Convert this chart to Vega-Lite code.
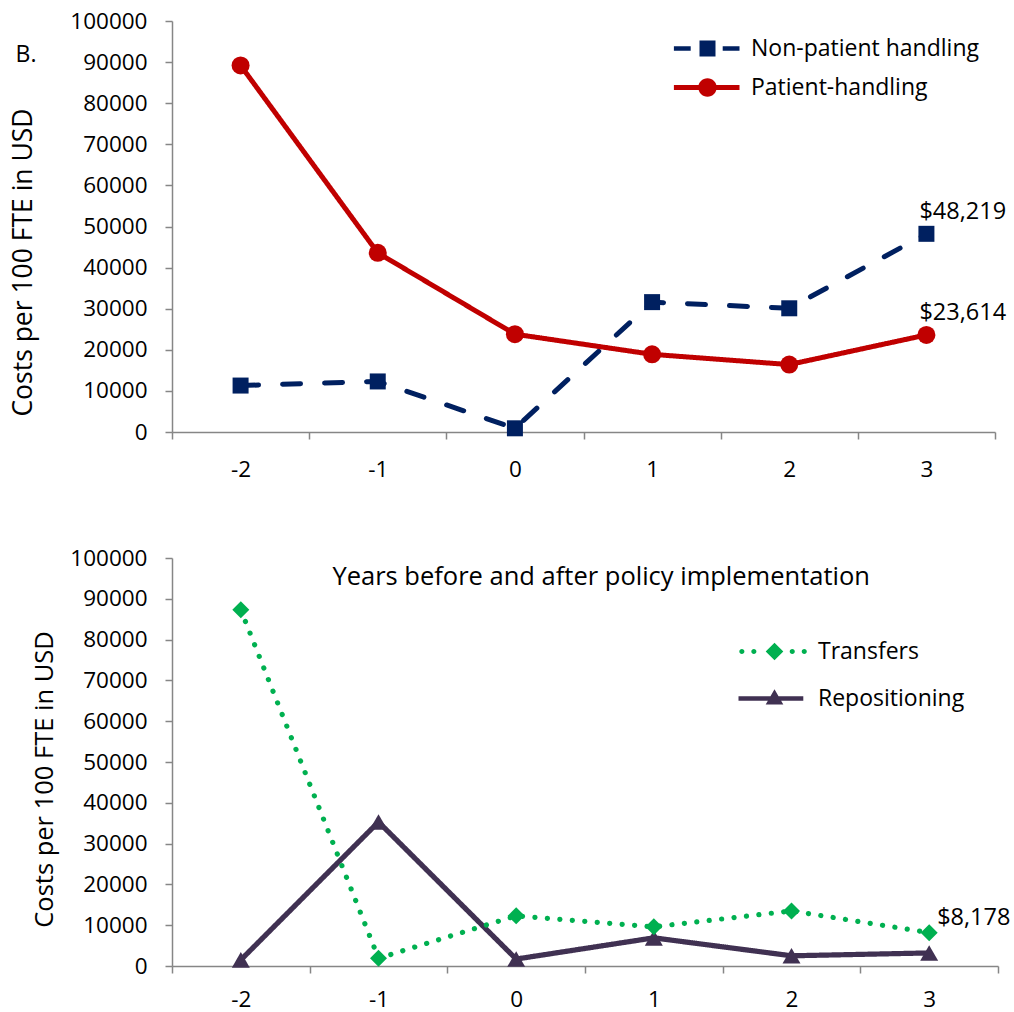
{
  "$schema": "https://vega.github.io/schema/vega-lite/v6.json",
  "background": "white",
  "padding": {"left": 10, "top": 10, "right": 5, "bottom": 2},
  "spacing": 66,
  "config": {
    "font": "Open Sans",
    "view": {"stroke": null},
    "axis": {
      "labelFont": "Open Sans", "labelFontSize": 22.5, "labelColor": "black",
      "titleFont": "Open Sans", "titleFontSize": 25, "titleFontWeight": "normal", "titleColor": "black",
      "domainColor": "#868686", "tickColor": "#868686", "domainWidth": 1.5, "tickWidth": 1.5, "tickSize": 7, "grid": false
    },
    "legend": {
      "title": null, "orient": "none", "padding": 0, "labelFont": "Open Sans", "labelFontSize": 23, "labelColor": "black",
      "labelLimit": 400, "symbolSize": 256, "labelOffset": 32, "symbolStrokeWidth": 0, "symbolOpacity": 1
    }
  },
  "datasets": {
    "top": [
      {"series": "Non-patient handling", "year": -2, "value": 11300},
      {"series": "Non-patient handling", "year": -1, "value": 12300},
      {"series": "Non-patient handling", "year": 0, "value": 900},
      {"series": "Non-patient handling", "year": 1, "value": 31600},
      {"series": "Non-patient handling", "year": 2, "value": 30100},
      {"series": "Non-patient handling", "year": 3, "value": 48219},
      {"series": "Patient-handling", "year": -2, "value": 89200},
      {"series": "Patient-handling", "year": -1, "value": 43600},
      {"series": "Patient-handling", "year": 0, "value": 23800},
      {"series": "Patient-handling", "year": 1, "value": 18900},
      {"series": "Patient-handling", "year": 2, "value": 16400},
      {"series": "Patient-handling", "year": 3, "value": 23614}
    ],
    "bottom": [
      {"series": "Repositioning", "year": -2, "value": 1500},
      {"series": "Repositioning", "year": -1, "value": 35300},
      {"series": "Repositioning", "year": 0, "value": 1700},
      {"series": "Repositioning", "year": 1, "value": 6900},
      {"series": "Repositioning", "year": 2, "value": 2500},
      {"series": "Repositioning", "year": 3, "value": 3200},
      {"series": "Transfers", "year": -2, "value": 87300},
      {"series": "Transfers", "year": -1, "value": 1900},
      {"series": "Transfers", "year": 0, "value": 12300},
      {"series": "Transfers", "year": 1, "value": 9600},
      {"series": "Transfers", "year": 2, "value": 13500},
      {"series": "Transfers", "year": 3, "value": 8178}
    ]
  },
  "resolve": {"scale": {"color": "independent", "strokeDash": "independent"}, "legend": {"color": "independent"}},
  "vconcat": [
    {
      "width": 823, "height": 411,
      "data": {"name": "top"},
      "encoding": {
        "x": {"field": "year", "type": "ordinal", "scale": {"type": "band", "domain": [-2, -1, 0, 1, 2, 3], "paddingInner": 0, "paddingOuter": 0},
              "axis": {"title": null, "labelAngle": 0, "tickBand": "extent", "labelPadding": 19}},
        "y": {"field": "value", "type": "quantitative", "scale": {"domain": [0, 100000]},
              "axis": {"title": "Costs per 100 FTE in USD", "values": [0, 10000, 20000, 30000, 40000, 50000, 60000, 70000, 80000, 90000, 100000], "format": "d", "titlePadding": 32, "titleFontSize": 26.5, "titleY": 241, "labelPadding": 18}}
      },
      "layer": [
        {
          "mark": {"type": "line", "strokeWidth": 5, "strokeCap": "round"},
          "encoding": {
            "color": {"field": "series", "type": "nominal", "scale": {"domain": ["Non-patient handling", "Patient-handling"], "range": ["#002060", "#C00000"]},
              "legend": {"legendX": 524, "legendY": 16, "rowPadding": 15,
                "encode": {"symbols": {"update": {
                  "shape": {"signal": "datum.value === 'Patient-handling' ? 'M-4.2,-0.3H4V0.3H-4.2Z M-1.15,0 A1.15,1.15 0 1,1 1.15,0 A1.15,1.15 0 1,1 -1.15,0Z' : 'M-4.2,-0.28H-2.1V0.28H-4.2Z M-1,-1H1V1H-1Z M1.9,-0.28H4V0.28H1.9Z'"},
                  "fill": {"signal": "datum.value === 'Patient-handling' ? '#C00000' : '#002060'"},
                  "fillOpacity": {"value": 1}, "strokeWidth": {"value": 0}, "opacity": {"value": 1}
                }}}}},
            "strokeDash": {"field": "series", "type": "nominal", "scale": {"domain": ["Non-patient handling", "Patient-handling"], "range": [[18, 24], [1, 0]]}, "legend": null}
          }
        },
        {
          "transform": [{"filter": "datum.series === 'Non-patient handling'"}],
          "mark": {"type": "point", "filled": true, "opacity": 1, "shape": "square", "size": 256, "color": "#002060"}
        },
        {
          "transform": [{"filter": "datum.series === 'Patient-handling'"}],
          "mark": {"type": "point", "filled": true, "opacity": 1, "shape": "circle", "size": 324, "color": "#C00000"}
        },
        {
          "transform": [{"filter": "datum.year === 3"}],
          "mark": {"type": "text", "align": "left", "baseline": "middle", "dx": -7, "dy": -22, "fontSize": 23.5, "font": "Open Sans", "color": "black"},
          "encoding": {"text": {"field": "value", "type": "quantitative", "format": "$,.0f"}}
        },
        {
          "data": {"values": [{}]},
          "mark": {"type": "rule", "color": "#4A7EBB", "strokeWidth": 1.5},
          "encoding": {"x": {"datum": 0}, "y": {"datum": 0}, "y2": {"datum": 99000}}
        },
        {
          "transform": [{"filter": "datum.year === -2 && datum.series === 'Patient-handling'"}],
          "mark": {"type": "text", "align": "left", "baseline": "middle", "dx": -225, "fontSize": 23, "font": "Open Sans", "color": "black"},
          "encoding": {"y": {"datum": 91700}, "text": {"value": "B."}}
        }
      ]
    },
    {
      "width": 826, "height": 408,
      "data": {"name": "bottom"},
      "encoding": {
        "x": {"field": "year", "type": "ordinal", "scale": {"type": "band", "domain": [-2, -1, 0, 1, 2, 3], "paddingInner": 0, "paddingOuter": 0},
              "axis": {"title": null, "labelAngle": 0, "tickBand": "extent", "labelPadding": 15}},
        "y": {"field": "value", "type": "quantitative", "scale": {"domain": [0, 100000]},
              "axis": {"title": "Costs per 100 FTE in USD", "values": [0, 10000, 20000, 30000, 40000, 50000, 60000, 70000, 80000, 90000, 100000], "format": "d", "titlePadding": 12, "titleFontSize": 25.5, "titleY": 221, "labelPadding": 18}}
      },
      "layer": [
        {
          "mark": {"type": "line", "strokeCap": "round", "strokeWidth": 5.2},
          "encoding": {
            "color": {"field": "series", "type": "nominal", "scale": {"domain": ["Transfers", "Repositioning"], "range": ["#00B050", "#403152"]},
              "legend": {"legendX": 591, "legendY": 82, "rowPadding": 23,
                "encode": {"symbols": {"update": {
                  "shape": {"signal": "datum.value === 'Transfers' ? 'M-4.4,0 A0.32,0.32 0 1,1 -3.76,0 A0.32,0.32 0 1,1 -4.4,0Z M-2.9,0 A0.32,0.32 0 1,1 -2.26,0 A0.32,0.32 0 1,1 -2.9,0Z M1.9,0 A0.32,0.32 0 1,1 2.54,0 A0.32,0.32 0 1,1 1.9,0Z M3.4,0 A0.32,0.32 0 1,1 4.04,0 A0.32,0.32 0 1,1 3.4,0Z M0,-1.1 L1.1,0 L0,1.1 L-1.1,0Z' : 'M-4.5,-0.28H3.6V0.28H-4.5Z M0,-1.15 L1.1,0.75 L-1.1,0.75Z'"},
                  "fill": {"signal": "datum.value === 'Transfers' ? '#00B050' : '#403152'"},
                  "fillOpacity": {"value": 1}, "strokeWidth": {"value": 0}, "opacity": {"value": 1}
                }}}}},
            "strokeDash": {"field": "series", "type": "nominal", "scale": {"domain": ["Transfers", "Repositioning"], "range": [[0.1, 12.4], [1, 0]]}, "legend": null},
            "order": {"field": "year", "type": "quantitative"}
          }
        },
        {
          "transform": [{"filter": "datum.series === 'Repositioning'"}],
          "mark": {"type": "point", "filled": true, "opacity": 1, "shape": "triangle-up", "size": 324, "color": "#403152"}
        },
        {
          "transform": [{"filter": "datum.series === 'Transfers'"}],
          "mark": {"type": "point", "filled": true, "opacity": 1, "shape": "diamond", "size": 289, "color": "#00B050"}
        },
        {
          "transform": [{"filter": "datum.year === 3 && datum.series === 'Transfers'"}],
          "mark": {"type": "text", "align": "left", "baseline": "middle", "dx": 8, "dy": -15, "fontSize": 23.5, "font": "Open Sans", "color": "black"},
          "encoding": {"text": {"field": "value", "type": "quantitative", "format": "$,.0f"}}
        },
        {
          "data": {"values": [{}]},
          "mark": {"type": "rule", "color": "#4A7EBB", "strokeWidth": 1.5},
          "encoding": {"x": {"datum": 0}, "y": {"datum": 0}, "y2": {"datum": 85500}}
        },
        {
          "transform": [{"filter": "datum.year === 0 && datum.series === 'Transfers'"}],
          "mark": {"type": "text", "align": "center", "baseline": "middle", "dx": 85, "fontSize": 25.5, "font": "Open Sans", "color": "black"},
          "encoding": {"y": {"datum": 95300}, "text": {"value": "Years before and after policy implementation"}}
        }
      ]
    }
  ]
}
